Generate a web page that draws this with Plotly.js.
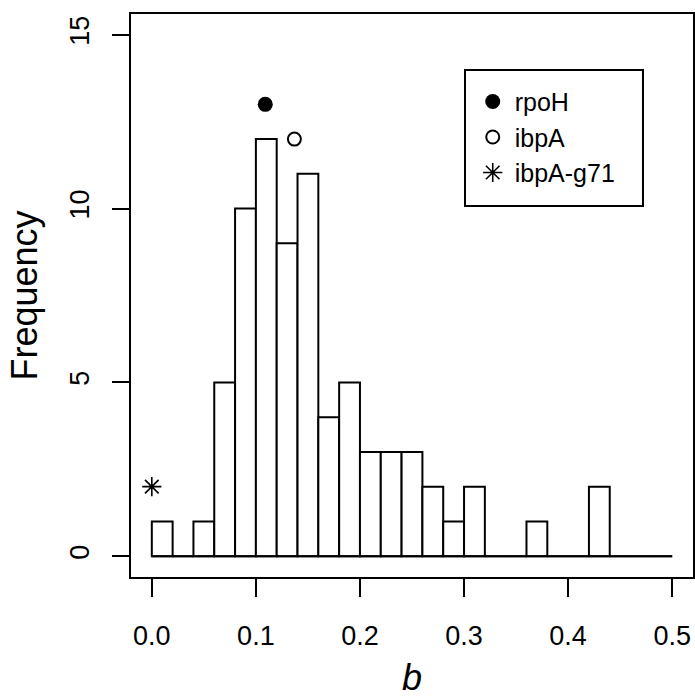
<!DOCTYPE html>
<html>
<head>
<meta charset="utf-8">
<script src="https://cdn.plot.ly/plotly-3.0.1.min.js"></script>
<style>html,body{margin:0;padding:0;background:#fff;}#chart{width:695px;height:698px;}</style>
</head>
<body>
<div id="chart"></div>
<script>
// Histogram of b (bin width 0.02, from 0 to 0.5)
var binStart = 0.0;
var binWidth = 0.02;
var counts = [1, 0, 1, 5, 10, 12, 9, 11, 4, 5, 3, 3, 3, 2, 1, 2, 0, 0, 1, 0, 0, 2, 0, 0, 0];

// Highlighted genes
var geneNames = ['rpoH', 'ibpA', 'ibpA-g71'];
var geneB = [0.109, 0.137, 0.0];
var geneFreq = [13, 12, 2];

var xTickVals = [0, 0.1, 0.2, 0.3, 0.4, 0.5];
var xTickText = ['0.0', '0.1', '0.2', '0.3', '0.4', '0.5'];
var yTickVals = [0, 5, 10, 15];
var yTickText = ['0', '5', '10', '15'];

var centers = counts.map(function (c, i) { return binStart + binWidth * (i + 0.5); });
var widths = counts.map(function () { return binWidth; });
var binEnd = binStart + binWidth * counts.length;

var FONT = 'Liberation Sans, Arial, Helvetica, sans-serif';

var traces = [
  {
    type: 'bar', x: centers, y: counts, width: widths,
    marker: { color: '#ffffff', line: { color: '#000000', width: 2 } },
    showlegend: false, hoverinfo: 'x+y'
  },
  {
    type: 'scatter', mode: 'lines', x: [binStart, binEnd], y: [0, 0],
    line: { color: '#000000', width: 2 }, showlegend: false, hoverinfo: 'skip'
  },
  {
    type: 'scatter', mode: 'markers', name: geneNames[0], x: [geneB[0]], y: [geneFreq[0]],
    marker: { symbol: 'circle', size: 15, color: '#000000', line: { width: 0 } }
  },
  {
    type: 'scatter', mode: 'markers', name: geneNames[1], x: [geneB[1]], y: [geneFreq[1]],
    marker: { symbol: 'circle-open', size: 13, color: '#000000', line: { width: 2, color: '#000000' } }
  },
  {
    type: 'scatter', mode: 'markers', name: geneNames[2], x: [geneB[2]], y: [geneFreq[2]],
    marker: { symbol: 'asterisk-open', size: 16, color: '#000000', line: { width: 1.6, color: '#000000' } }
  }
];

var layout = {
  width: 695, height: 698,
  margin: { l: 131, r: 2, t: 14, b: 121, pad: 0 },
  paper_bgcolor: '#ffffff', plot_bgcolor: '#ffffff',
  font: { family: FONT, color: '#000000', size: 27 },
  bargap: 0,
  xaxis: {
    range: [-0.02, 0.52], tickvals: xTickVals, ticktext: xTickText,
    ticks: 'outside', ticklen: 18, tickwidth: 2, tickcolor: '#000000',
    showline: true, linewidth: 2, linecolor: '#000000', mirror: true,
    showgrid: false, zeroline: false, fixedrange: true, ticklabelstandoff: 16,
    tickfont: { family: FONT, size: 27, color: '#000000' },
    title: { text: '<i>b</i>', font: { family: FONT, size: 36, color: '#000000' }, standoff: 17 }
  },
  yaxis: {
    range: [-0.6, 15.6], tickvals: yTickVals, ticktext: yTickText, tickangle: -90,
    ticks: 'outside', ticklen: 17, tickwidth: 2, tickcolor: '#000000',
    showline: true, linewidth: 2, linecolor: '#000000', mirror: true,
    showgrid: false, zeroline: false, fixedrange: true, ticklabelstandoff: 12,
    tickfont: { family: FONT, size: 27, color: '#000000' },
    title: { text: 'Frequency', font: { family: FONT, size: 36, color: '#000000' }, standoff: 17 }
  },
  legend: {
    x: 0.6045, y: 0.885, xanchor: 'left', yanchor: 'top',
    bgcolor: 'rgba(0,0,0,0)', borderwidth: 0,
    font: { family: FONT, size: 25, color: '#000000' },
    itemwidth: 34
  },
  shapes: [
    { type: 'rect', xref: 'paper', yref: 'paper', x0: 0.5943, x1: 0.911, y0: 0.659, y1: 0.9005,
      line: { color: '#000000', width: 2 }, fillcolor: 'rgba(0,0,0,0)', layer: 'above' }
  ]
};

Plotly.newPlot('chart', traces, layout, { displayModeBar: false, staticPlot: true });
</script>
</body>
</html>
